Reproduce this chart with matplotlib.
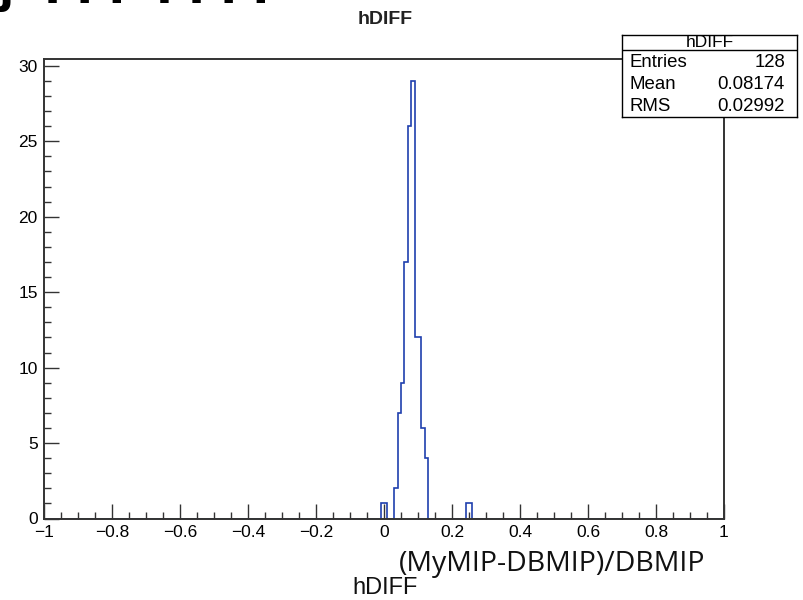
import numpy as np
import matplotlib.pyplot as plt
from matplotlib.ticker import MultipleLocator

# histogram hDIFF: 200 bins of 0.01 on [-1, 1], only filled bins listed
bin_lo = [-0.01, 0.00, 0.03, 0.04, 0.05, 0.06, 0.07, 0.08, 0.09, 0.10, 0.11, 0.12, 0.24, 0.25]
bin_cnt = [1, 1, 2, 7, 9, 17, 26, 29, 12, 12, 6, 4, 1, 1]

stat_names = ["Entries", "Mean", "RMS"]
stat_vals = ["128", "0.08174", "0.02992"]

edges = np.linspace(-1, 1, 201)
counts = np.zeros(200)
for lo, c in zip(bin_lo, bin_cnt):
    counts[int(round((lo + 1) / 0.01))] = c

font = "Liberation Sans"
fig = plt.figure(figsize=(8.04, 6.0), dpi=100)
ax = fig.add_axes([44 / 804, 1 - 518.5 / 600, 680 / 804, (518.5 - 59) / 600])
ax.stairs(counts, edges, color="#1f3fae", lw=1.2, zorder=1)
ax.set_xlim(-1, 1)
ax.set_ylim(0, 30.45)

ax.xaxis.set_major_locator(MultipleLocator(0.2))
ax.xaxis.set_minor_locator(MultipleLocator(0.05))
ax.yaxis.set_major_locator(MultipleLocator(5))
ax.yaxis.set_minor_locator(MultipleLocator(1))
ax.tick_params(which="both", direction="in", top=False, right=False, color="#333333", width=1.0)
ax.tick_params(which="major", length=10.5, labelsize=12.5, pad=4.5)
ax.tick_params(which="minor", length=5.3)


def fmt(v, p):
    v = round(v, 2)
    if abs(v) < 1e-9:
        return "0"
    return ("%g" % v).replace("-", "\u2212")


ax.xaxis.set_major_formatter(plt.FuncFormatter(fmt))
for lab in ax.get_xticklabels() + ax.get_yticklabels():
    lab.set_fontfamily(font)
for s in ax.spines.values():
    s.set_color("#333333")
    s.set_linewidth(1.4)
    s.set_zorder(3)

# cut-off slide heading at the very top
fig.text(-2 / 804, 1 - 3 / 600, "j  I I I  I I I I", ha="left", va="baseline",
         fontsize=32, fontweight="bold", family="DejaVu Sans", color="black")

# title
fig.text(385 / 804, 1 - 20 / 600, "hDIFF", ha="center", va="center",
         fontsize=14, family=font, fontweight="bold", color="#222222")

# stats box
bx = fig.add_axes([622 / 804, 1 - 117 / 600, 175 / 804, 82 / 600])
bx.set_xticks([])
bx.set_yticks([])
bx.set_xlim(0, 175)
bx.set_ylim(82, 0)
for s in bx.spines.values():
    s.set_linewidth(1.0)
bx.axhline(15, color="black", lw=1.0)
bx.text(87.5, 7.8, "hDIFF", ha="center", va="center", fontsize=12.5, family=font)
for i, (n, v) in enumerate(zip(stat_names, stat_vals)):
    yy = 27.5 + i * 22
    bx.text(8, yy, n, ha="left", va="center", fontsize=13.4, family=font)
    bx.text(163, yy, v, ha="right", va="center", fontsize=13.4, family=font)

# annotations under the axis
fig.text(552 / 804, 1 - 564 / 600, "(MyMIP-DBMIP)/DBMIP", ha="center", va="center",
         fontsize=20.5, family="Open Sans", color="#111111")
fig.text(385 / 804, 1 - 588 / 600, "hDIFF", ha="center", va="center",
         fontsize=17, family=font, color="#111111")

fig.savefig("out.png", dpi=100)
